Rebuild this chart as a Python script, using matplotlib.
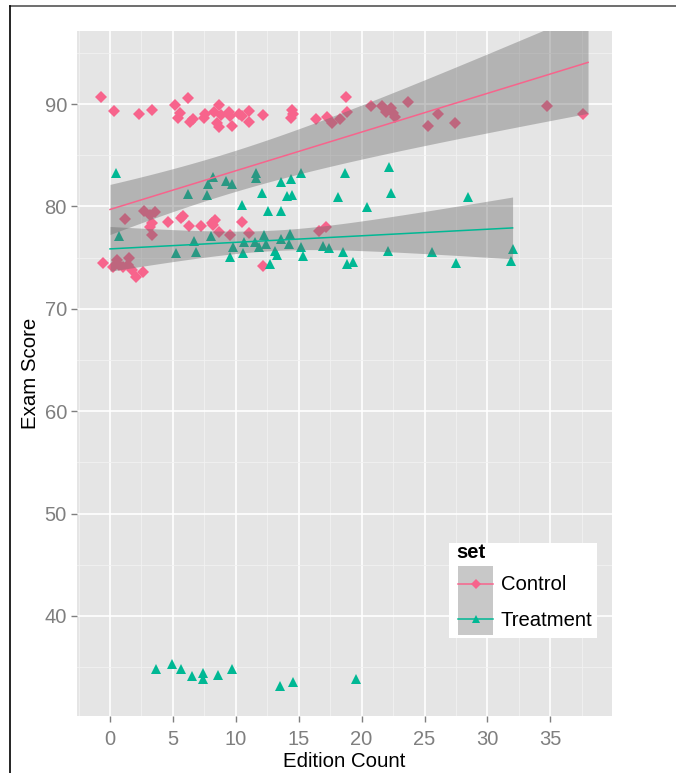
import numpy as np
import matplotlib
matplotlib.use('Agg')
from matplotlib import pyplot as plt
from matplotlib.patches import Rectangle
from matplotlib.lines import Line2D

plt.rcParams['font.family'] = ['Liberation Sans', 'DejaVu Sans']

# datos (puntos con jitter)
control_x = [-0.74, 0.34, 2.33, 3.34, 5.14, 6.18, 5.56, 5.38, 6.36, 6.60, 7.55, 7.50, 8.24, 8.69,
             8.80, 8.51, 8.64, 9.44, 9.54, 9.72, 10.28, 10.47, 11.07, 11.05, 12.19, 14.49, 14.57,
             14.36, 16.35, 17.27, 18.76, 18.82, 17.67, 18.28, 20.71, 21.64, 21.94, 22.34, 22.52,
             22.63, 23.71, 25.24, 26.06, 27.42, 34.71, 37.62,
             1.19, 2.73, 3.18, 3.58, 3.36, 3.18, 3.36, 4.63, 5.62, 5.83, 6.30, 7.21, 8.08, 8.35,
             8.21, 8.66, 9.54, 10.52, 11.05, -0.58, 0.53, 0.26, 0.74, 1.06, 1.51, 1.45, 1.72,
             2.03, 2.65, 12.16, 16.64, 17.17]
control_y = [90.65, 89.29, 89.02, 89.41, 89.90, 90.56, 89.09, 88.66, 88.27, 88.54, 88.99, 88.60,
             89.19, 89.90, 88.93, 88.17, 87.78, 89.19, 88.86, 87.88, 89.02, 88.83, 89.32, 88.27,
             88.93, 89.41, 88.99, 88.66, 88.54, 88.76, 90.65, 89.25, 88.12, 88.51, 89.78, 89.80,
             89.25, 89.64, 89.09, 88.70, 90.17, 87.88, 89.00, 88.12, 89.78, 88.99,
             78.74, 79.58, 79.16, 79.48, 78.35, 78.02, 77.21, 78.48, 78.84, 79.06, 78.12, 78.12,
             78.35, 78.67, 78.18, 77.53, 77.21, 78.48, 77.43, 74.44, 74.77, 74.05, 74.28, 74.05,
             74.93, 74.28, 73.79, 73.13, 73.62, 74.15, 77.63, 77.96]

treat_x = [0.48, 0.74, 6.18, 7.73, 7.77, 8.21, 9.20, 9.67, 11.58, 11.58, 12.10, 10.49, 12.52,
           13.58, 13.59, 14.35, 15.16, 14.09, 14.44, 18.68, 22.20, 18.15, 22.34, 20.45, 28.43,
           5.23, 6.66, 6.84, 8.00, 9.74, 9.56, 10.65, 10.60, 11.50, 11.82, 12.24, 12.42, 12.72,
           13.14, 13.30, 13.58, 14.20, 14.29, 15.21, 15.33, 16.96, 17.37, 18.55, 18.82, 19.30,
           22.11, 25.56, 27.50, 32.06, 31.85,
           3.66, 4.95, 5.64, 6.49, 7.42, 7.37, 8.61, 9.67, 13.51, 14.57, 19.55]
treat_y = [83.29, 77.11, 81.21, 81.11, 82.19, 82.90, 82.51, 82.19, 83.23, 82.74, 81.26, 80.14,
           79.58, 79.58, 82.41, 82.63, 83.23, 81.02, 81.13, 83.23, 83.88, 80.96, 81.26, 79.97,
           80.95,
           75.42, 76.62, 75.58, 77.08, 76.06, 75.09, 76.55, 75.42, 76.52, 76.06, 77.24, 76.30,
           74.36, 75.64, 75.21, 76.84, 76.31, 77.28, 75.99, 75.16, 76.10, 75.89, 75.58, 74.36,
           74.54, 75.66, 75.58, 74.44, 75.81, 74.70,
           34.82, 35.28, 34.80, 34.14, 34.40, 33.85, 34.24, 34.80, 33.16, 33.58, 33.82]

grupos = ["Control", "Treatment"]
colores = ["#F7648C", "#00B894"]
marcadores = ["D", "^"]

# recta ajustada (geom_smooth lm): intercepto, pendiente, x maximo
fit_intercept = [79.7, 75.85]
fit_slope = [0.378, 0.064]
fit_xmax = [38, 32]
# banda de confianza: ancho minimo, donde ocurre, y como crece
ci_min = [2.0, 1.0]
ci_centro = [9, 13]
ci_crece = [0.157, 0.15]

fig = plt.figure(figsize=(6.76, 7.73), dpi=100)
W, H = 676.0, 773.0
ax = fig.add_axes([77.3 / W, 1 - 715.7 / H, (611.7 - 77.3) / W, (715.7 - 31) / H])
ax.set_facecolor('#E5E5E5')
for sp in ax.spines.values():
    sp.set_visible(False)

datos = [(control_x, control_y), (treat_x, treat_y)]
for (xx, yy), col, mk in zip(datos, colores, marcadores):
    ax.plot(xx, yy, linestyle='none', marker=mk, color=col, markersize=6 if mk == 'D' else 7,
            markeredgewidth=0, zorder=2)

for i, col in enumerate(colores):
    xs = np.linspace(0, fit_xmax[i], 100)
    ys = fit_intercept[i] + fit_slope[i] * xs
    ci = np.sqrt(ci_min[i] ** 2 + (ci_crece[i] * (xs - ci_centro[i])) ** 2)
    ax.fill_between(xs, ys - ci, ys + ci, color='#6A6A6A', alpha=0.4, linewidth=0, zorder=3)
    ax.plot(xs, ys, color=col, linewidth=1.1, zorder=4)

ax.set_xlim(-2.6, 39.88)
ax.set_ylim(30.26, 97.13)
ax.set_xticks(np.arange(0, 40, 5))
ax.set_yticks(np.arange(40, 100, 10))
ax.set_xticks(np.arange(-2.5, 40, 5), minor=True)
ax.set_yticks(np.arange(35, 100, 10), minor=True)
ax.grid(True, which='major', color='white', linewidth=1.2, zorder=0)
ax.grid(True, which='minor', color='#F2F2F2', linewidth=0.6, zorder=0)
ax.set_axisbelow(True)
ax.tick_params(which='major', color='#7F7F7F', length=4.5, width=1, labelcolor='#7F7F7F',
               labelsize=14.5, pad=3)
ax.tick_params(axis='x', which='major', pad=6)
ax.tick_params(which='minor', length=0)
ax.set_xlabel("Edition Count", fontsize=14.7, labelpad=2)
ax.set_ylabel("Exam Score", fontsize=14.7, labelpad=3)


def fx(p):
    return p / W


def fy(p):
    return 1 - p / H


# leyenda hecha a mano (estilo ggplot)
fig.add_artist(Rectangle((fx(449), fy(638)), fx(597.3) - fx(449), fy(542.7) - fy(638),
                         transform=fig.transFigure, facecolor='white', edgecolor='none', zorder=5))
fig.add_artist(Rectangle((fx(457.7), fy(635)), fx(493.3) - fx(457.7), fy(566) - fy(635),
                         transform=fig.transFigure, facecolor='#C8C8C8', edgecolor='none', zorder=6))
fig.text(fx(456), fy(553), "set", fontsize=14.6, fontweight='bold', va='center', zorder=7)
for i, (g, col, mk) in enumerate(zip(grupos, colores, marcadores)):
    yl = [583.5, 618.5][i]
    fig.add_artist(Line2D([fx(457.7), fx(493.3)], [fy(yl), fy(yl)], transform=fig.transFigure,
                          color=col, linewidth=1.1, zorder=7))
    fig.add_artist(Line2D([fx(475.5)], [fy(yl)], transform=fig.transFigure, linestyle='none',
                          marker=mk, color=col, markersize=5 if mk == 'D' else 6,
                          markeredgewidth=0, zorder=8))
    fig.text(fx(501), fy(yl + 1.5), g, fontsize=14.6, va='center', zorder=7)

# borde de la captura
fig.add_artist(Line2D([fx(9.5), 1], [fy(5.5), fy(5.5)], transform=fig.transFigure,
                      color='#555555', linewidth=1.2))
fig.add_artist(Line2D([fx(9.5), fx(9.5)], [fy(5.5), 0], transform=fig.transFigure,
                      color='black', linewidth=1.2))

plt.savefig('out.png', dpi=100)
